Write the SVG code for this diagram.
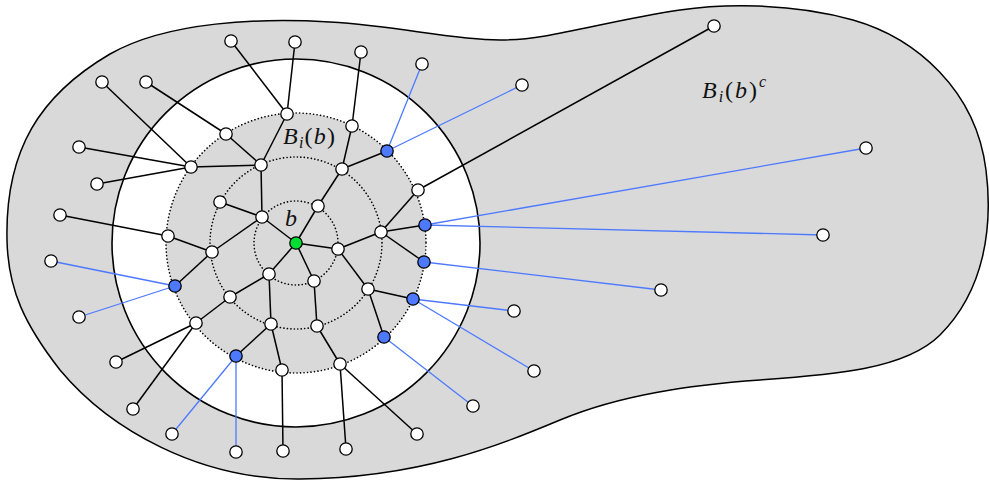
<svg xmlns="http://www.w3.org/2000/svg" width="989" height="483" viewBox="0 0 989 483">
<style>
.e{stroke:#000;stroke-width:1.5;fill:none}
.eb{stroke:#4d79ff;stroke-width:1.3;fill:none}
.w{fill:#fff;stroke:#000;stroke-width:1.3}
.bl{fill:#4d79ff;stroke:#000;stroke-width:1.3}
.gr{fill:#00dd33;stroke:#000;stroke-width:1.3}
.dot{fill:none;stroke:#000;stroke-width:1.6;stroke-dasharray:0.1 3.4;stroke-linecap:round}
.lbl{font-family:"Liberation Serif","DejaVu Serif",serif;font-size:24px;font-style:italic;fill:#111}
.up{font-style:normal}
</style>
<g id="regions">
<path d="M 7,240 C 5,150 40,95 110,54 C 168,21 260,18 330,22 C 400,26 450,40 500,40 C 550,40 600,22 680,10 C 720,4 790,2 853,20 C 916,38 976,90 986,170 C 993,226 985,290 940,335 C 905,370 830,375 760,380 C 690,385 620,395 560,420 C 500,445 420,478 300,479 C 200,480 110,430 60,370 C 25,325 8,290 7,240 Z" fill="#d9d9d9" stroke="#000" stroke-width="1.5"/>
<circle cx="296" cy="243" r="184" fill="#fff" stroke="#000" stroke-width="1.6"/>
<circle cx="296" cy="243" r="130" fill="#d9d9d9"/>
<circle class="dot" cx="296" cy="243" r="130"/>
<circle class="dot" cx="296" cy="243" r="86"/>
<circle class="dot" cx="296" cy="243" r="42"/>
</g>
<g id="connectors">
<line class="e" x1="231" y1="41" x2="287" y2="114"/>
<line class="e" x1="295" y1="42" x2="287" y2="114"/>
<line class="e" x1="102" y1="82" x2="191" y2="167"/>
<line class="e" x1="146" y1="82" x2="226" y2="134"/>
<line class="e" x1="226" y1="134" x2="261" y2="165"/>
<line class="e" x1="287" y1="114" x2="261" y2="165"/>
<line class="e" x1="79" y1="147" x2="191" y2="167"/>
<line class="e" x1="97" y1="184" x2="191" y2="167"/>
<line class="e" x1="191" y1="167" x2="261" y2="165"/>
<line class="e" x1="261" y1="165" x2="262" y2="217"/>
<line class="e" x1="220" y1="202" x2="262" y2="217"/>
<line class="e" x1="262" y1="217" x2="296" y2="243"/>
<line class="e" x1="60" y1="215" x2="168" y2="236"/>
<line class="e" x1="168" y1="236" x2="212" y2="252"/>
<line class="e" x1="262" y1="217" x2="212" y2="252"/>
<line class="e" x1="296" y1="243" x2="318" y2="206"/>
<line class="e" x1="318" y1="206" x2="342" y2="169"/>
<line class="e" x1="342" y1="169" x2="352" y2="126"/>
<line class="e" x1="352" y1="126" x2="361" y2="52"/>
<line class="e" x1="342" y1="169" x2="387" y2="151"/>
<line class="e" x1="296" y1="243" x2="338" y2="249"/>
<line class="e" x1="338" y1="249" x2="381" y2="232"/>
<line class="e" x1="381" y1="232" x2="418" y2="190"/>
<line class="e" x1="418" y1="190" x2="714" y2="26"/>
<line class="e" x1="381" y1="232" x2="425" y2="225"/>
<line class="e" x1="381" y1="232" x2="424" y2="262"/>
<line class="e" x1="338" y1="249" x2="368" y2="289"/>
<line class="e" x1="368" y1="289" x2="413" y2="299"/>
<line class="e" x1="368" y1="289" x2="384" y2="337"/>
<line class="e" x1="296" y1="243" x2="314" y2="281"/>
<line class="e" x1="314" y1="281" x2="317" y2="326"/>
<line class="e" x1="317" y1="326" x2="340" y2="364"/>
<line class="e" x1="340" y1="364" x2="346" y2="449"/>
<line class="e" x1="340" y1="364" x2="417" y2="434"/>
<line class="e" x1="296" y1="243" x2="269" y2="274"/>
<line class="e" x1="269" y1="274" x2="271" y2="324"/>
<line class="e" x1="271" y1="324" x2="236" y2="356"/>
<line class="e" x1="271" y1="324" x2="282" y2="370"/>
<line class="e" x1="282" y1="370" x2="283" y2="451"/>
<line class="e" x1="269" y1="274" x2="230" y2="297"/>
<line class="e" x1="230" y1="297" x2="196" y2="323"/>
<line class="e" x1="196" y1="323" x2="116" y2="362"/>
<line class="e" x1="196" y1="323" x2="133" y2="409"/>
<line class="e" x1="212" y1="252" x2="175" y2="286"/>
<line class="eb" x1="175" y1="286" x2="51" y2="261"/>
<line class="eb" x1="175" y1="286" x2="79" y2="317"/>
<line class="eb" x1="236" y1="356" x2="172" y2="434"/>
<line class="eb" x1="236" y1="356" x2="236" y2="452"/>
<line class="eb" x1="384" y1="337" x2="473" y2="406"/>
<line class="eb" x1="413" y1="299" x2="534" y2="371"/>
<line class="eb" x1="413" y1="299" x2="514" y2="311"/>
<line class="eb" x1="424" y1="262" x2="661" y2="290"/>
<line class="eb" x1="425" y1="225" x2="823" y2="235"/>
<line class="eb" x1="425" y1="225" x2="866" y2="148"/>
<line class="eb" x1="387" y1="151" x2="522" y2="85"/>
<line class="eb" x1="387" y1="151" x2="422" y2="64"/>
</g>
<g id="L1"><circle class="w" cx="231" cy="41" r="6.2"/></g>
<g id="L2"><circle class="w" cx="295" cy="42" r="6.2"/></g>
<g id="L3"><circle class="w" cx="102" cy="82" r="6.2"/></g>
<g id="L4"><circle class="w" cx="146" cy="82" r="6.2"/></g>
<g id="L5"><circle class="w" cx="79" cy="147" r="6.2"/></g>
<g id="L6"><circle class="w" cx="97" cy="184" r="6.2"/></g>
<g id="L7"><circle class="w" cx="60" cy="215" r="6.2"/></g>
<g id="L8"><circle class="w" cx="51" cy="261" r="6.2"/></g>
<g id="L9"><circle class="w" cx="79" cy="317" r="6.2"/></g>
<g id="L10"><circle class="w" cx="116" cy="362" r="6.2"/></g>
<g id="L11"><circle class="w" cx="133" cy="409" r="6.2"/></g>
<g id="L12"><circle class="w" cx="172" cy="434" r="6.2"/></g>
<g id="L13"><circle class="w" cx="236" cy="452" r="6.2"/></g>
<g id="L14"><circle class="w" cx="283" cy="451" r="6.2"/></g>
<g id="L15"><circle class="w" cx="346" cy="449" r="6.2"/></g>
<g id="L16"><circle class="w" cx="417" cy="434" r="6.2"/></g>
<g id="L17"><circle class="w" cx="473" cy="406" r="6.2"/></g>
<g id="L18"><circle class="w" cx="534" cy="371" r="6.2"/></g>
<g id="L19"><circle class="w" cx="514" cy="311" r="6.2"/></g>
<g id="L20"><circle class="w" cx="661" cy="290" r="6.2"/></g>
<g id="L21"><circle class="w" cx="823" cy="235" r="6.2"/></g>
<g id="L22"><circle class="w" cx="866" cy="148" r="6.2"/></g>
<g id="L23"><circle class="w" cx="714" cy="26" r="6.2"/></g>
<g id="L24"><circle class="w" cx="522" cy="85" r="6.2"/></g>
<g id="L25"><circle class="w" cx="422" cy="64" r="6.2"/></g>
<g id="L26"><circle class="w" cx="361" cy="52" r="6.2"/></g>
<g id="A1"><circle class="w" cx="287" cy="114" r="6.2"/></g>
<g id="A2"><circle class="w" cx="226" cy="134" r="6.2"/></g>
<g id="A3"><circle class="w" cx="191" cy="167" r="6.2"/></g>
<g id="A4"><circle class="w" cx="261" cy="165" r="6.2"/></g>
<g id="A5"><circle class="w" cx="220" cy="202" r="6.2"/></g>
<g id="A6"><circle class="w" cx="262" cy="217" r="6.2"/></g>
<g id="A7"><circle class="w" cx="168" cy="236" r="6.2"/></g>
<g id="A8"><circle class="w" cx="212" cy="252" r="6.2"/></g>
<g id="A9"><circle class="w" cx="318" cy="206" r="6.2"/></g>
<g id="A10"><circle class="w" cx="342" cy="169" r="6.2"/></g>
<g id="A11"><circle class="w" cx="352" cy="126" r="6.2"/></g>
<g id="A12"><circle class="w" cx="418" cy="190" r="6.2"/></g>
<g id="A13"><circle class="w" cx="381" cy="232" r="6.2"/></g>
<g id="A14"><circle class="w" cx="338" cy="249" r="6.2"/></g>
<g id="A15"><circle class="w" cx="269" cy="274" r="6.2"/></g>
<g id="A16"><circle class="w" cx="314" cy="281" r="6.2"/></g>
<g id="A17"><circle class="w" cx="368" cy="289" r="6.2"/></g>
<g id="A18"><circle class="w" cx="230" cy="297" r="6.2"/></g>
<g id="A19"><circle class="w" cx="271" cy="324" r="6.2"/></g>
<g id="A20"><circle class="w" cx="317" cy="326" r="6.2"/></g>
<g id="A21"><circle class="w" cx="196" cy="323" r="6.2"/></g>
<g id="A22"><circle class="w" cx="282" cy="370" r="6.2"/></g>
<g id="A23"><circle class="w" cx="340" cy="364" r="6.2"/></g>
<g id="B1"><circle class="bl" cx="387" cy="151" r="6.2"/></g>
<g id="B2"><circle class="bl" cx="425" cy="225" r="6.2"/></g>
<g id="B3"><circle class="bl" cx="424" cy="262" r="6.2"/></g>
<g id="B4"><circle class="bl" cx="413" cy="299" r="6.2"/></g>
<g id="B5"><circle class="bl" cx="384" cy="337" r="6.2"/></g>
<g id="B6"><circle class="bl" cx="175" cy="286" r="6.2"/></g>
<g id="B7"><circle class="bl" cx="236" cy="356" r="6.2"/></g>
<g id="b"><circle class="gr" cx="296" cy="243" r="6.2"/></g>
<g id="labels">
<text class="lbl" x="283" y="143.5" textLength="52" lengthAdjust="spacing">B<tspan font-size="16" dy="4">i</tspan><tspan class="up" dy="-4">(</tspan>b<tspan class="up">)</tspan></text>
<text class="lbl" x="285" y="226">b</text>
<text class="lbl" x="702" y="97.5" textLength="64" lengthAdjust="spacing">B<tspan font-size="16" dy="4">i</tspan><tspan class="up" dy="-4">(</tspan>b<tspan class="up">)</tspan><tspan font-size="16" dy="-11">c</tspan></text>
</g>
</svg>
